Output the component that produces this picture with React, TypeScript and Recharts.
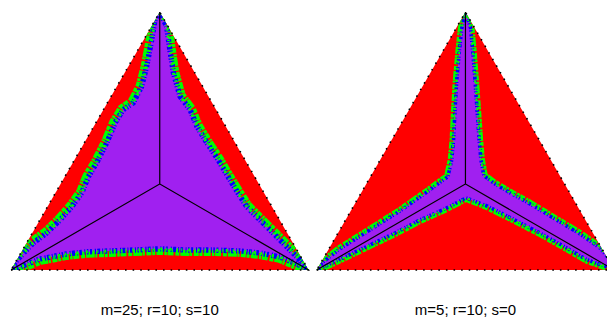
import { ComposedChart, Scatter, XAxis, YAxis } from 'recharts';

const RED = '#FF0000';
const PURPLE = '#A020F0';
const GREEN = '#00FF00';
const BLUE = '#0000FF';

// ternary frame: base 0..1, apex at height sqrt(3)/2
const H = Math.sqrt(3) / 2;
const triangle = [[0, 0], [1, 0], [0.5, H], [0, 0]];
const spokes = [[0, 0], [0.5, H / 3], [0.5, H], [0.5, H / 3], [1, 0]];

const labels = ['m=25; r=10; s=10', 'm=5; r=10; s=0'];

// boundary of the purple basin (middle of the green/blue fringe), m=25
const regionM25 = [
  [0, 0], [0.013, 0.024], [0.036, 0.05], [0.075, 0.091], [0.12, 0.124], [0.165, 0.168],
  [0.204, 0.212], [0.238, 0.259], [0.26, 0.313], [0.288, 0.36], [0.322, 0.427], [0.35, 0.494],
  [0.377, 0.538], [0.411, 0.561], [0.439, 0.616], [0.456, 0.683], [0.473, 0.773], [0.484, 0.84],
  [0.5, H],
  [0.523, 0.818], [0.534, 0.739], [0.546, 0.661], [0.568, 0.583], [0.602, 0.538], [0.625, 0.482],
  [0.659, 0.426], [0.696, 0.37], [0.729, 0.314], [0.763, 0.258], [0.792, 0.213], [0.837, 0.168],
  [0.882, 0.123], [0.927, 0.078], [0.966, 0.039],
  [1, 0],
  [0.988, 0.007], [0.961, 0.02], [0.904, 0.044], [0.837, 0.057], [0.77, 0.064], [0.679, 0.067],
  [0.591, 0.067], [0.501, 0.071], [0.411, 0.067], [0.333, 0.064], [0.254, 0.061], [0.187, 0.054],
  [0.097, 0.037], [0.03, 0.01],
  [0, 0],
];

// m=5: the basin shrinks to a band around the spokes
const regionM5 = [
  [0, 0], [0.018, 0.024], [0.078, 0.071], [0.169, 0.128], [0.28, 0.198], [0.371, 0.262],
  [0.421, 0.299], [0.441, 0.313],
  [0.454, 0.37], [0.46, 0.437], [0.465, 0.538], [0.471, 0.639], [0.48, 0.739], [0.488, 0.813],
  [0.5, H],
  [0.517, 0.813], [0.524, 0.739], [0.532, 0.639], [0.539, 0.538], [0.546, 0.437], [0.552, 0.37],
  [0.562, 0.316],
  [0.599, 0.289], [0.65, 0.259], [0.717, 0.222], [0.801, 0.171], [0.885, 0.121], [0.952, 0.074],
  [0.986, 0.034],
  [1, 0],
  [0.969, 0.013], [0.909, 0.034], [0.835, 0.077], [0.751, 0.124], [0.66, 0.171], [0.572, 0.215],
  [0.502, 0.242],
  [0.431, 0.205], [0.347, 0.168], [0.263, 0.124], [0.179, 0.084], [0.095, 0.044], [0.038, 0.017],
  [0, 0],
];

// irregular dash patterns give the speckled fringe
const GREEN_DASH = '7 1.2 3 0.8 5 1.6 2 0.6 9 1 4 1.8 6 0.7 2.5 1.3';
const BLUE_DASH = '1.5 1.5 1 2.5 2.5 1.5 1 2 3 1.2 1.2 2.8 2 1.6';
const SPECK_DASH = '1 4 2 6 1 3 1.5 5 2 2.5';

const pts = (a: number[][]) => a.map(([x, y]) => ({ x, y }));
const toPath = (p: { x: number; y: number }[]) =>
  p.map((q, i) => `${i ? 'L' : 'M'}${q.x},${q.y}`).join(' ') + ' Z';
const noDot = () => <g />;

function Panel({ id, region, label, width, left, right, band }: any) {
  const clip = `url(#${id})`;
  return (
    <ComposedChart width={width} height={320} margin={{ top: 12, right, bottom: 0, left }}>
      <XAxis
        type="number"
        dataKey="x"
        domain={[0, 1]}
        tick={false}
        tickLine={false}
        axisLine={false}
        height={50}
        label={{ value: label, position: 'insideBottom', offset: 5, fill: '#000', fontSize: 15, fontFamily: 'Liberation Sans, Arial, sans-serif' }}
      />
      <YAxis type="number" dataKey="y" domain={[0, H]} hide />
      <Scatter
        data={pts(triangle)}
        dataKey="y"
        isAnimationActive={false}
        shape={noDot}
        line={(p: any) => (
          <g>
            <defs>
              <clipPath id={id}>
                <path d={toPath(p.points)} />
              </clipPath>
            </defs>
            <path d={toPath(p.points)} fill={RED} />
          </g>
        )}
      />
      <Scatter
        data={pts(region)}
        dataKey="y"
        isAnimationActive={false}
        shape={noDot}
        line={(p: any) => {
          const d = toPath(p.points);
          return (
            <g clipPath={clip}>
              <path d={d} fill={PURPLE} stroke={GREEN} strokeWidth={band} strokeDasharray={GREEN_DASH} strokeLinejoin="round" />
              <path d={d} fill={PURPLE} />
              <path d={d} fill="none" stroke={BLUE} strokeWidth={band * 0.45} strokeDasharray={BLUE_DASH} />
              <path d={d} fill="none" stroke={GREEN} strokeWidth={band * 0.25} strokeDasharray={SPECK_DASH} />
            </g>
          );
        }}
      />
      <Scatter
        data={pts(spokes)}
        dataKey="y"
        isAnimationActive={false}
        shape={noDot}
        line={{ stroke: '#000', strokeWidth: 1.2, fill: 'none' }}
      />
      <Scatter
        data={pts(triangle)}
        dataKey="y"
        isAnimationActive={false}
        shape={noDot}
        line={{ stroke: '#000', strokeWidth: 1.6, strokeDasharray: '1.6 6', fill: 'none' }}
      />
    </ComposedChart>
  );
}

export default function App() {
  return (
    <div style={{ position: 'absolute', left: 0, top: 0, width: 607, height: 320, overflow: 'hidden', display: 'flex', background: '#fff' }}>
      <div style={{ flexShrink: 0 }}>
        <Panel id="tri-m25" region={regionM25} label={labels[0]} width={312} left={11} right={3.5} band={12} />
      </div>
      <div style={{ flexShrink: 0 }}>
        <Panel id="tri-m5" region={regionM5} label={labels[1]} width={306} left={4.7} right={3.8} band={8} />
      </div>
    </div>
  );
}
